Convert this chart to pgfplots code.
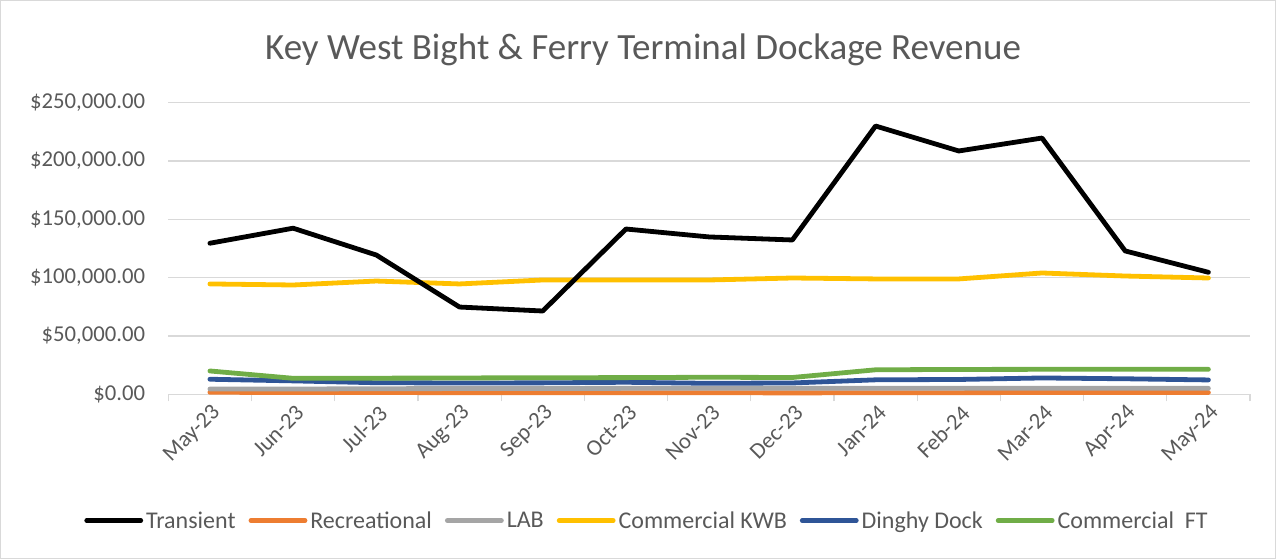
\documentclass[border=0pt]{standalone}
\usepackage{pgfplots}
\pgfplotsset{compat=1.18}
\usepackage{pgfplotstable}
\usepackage{fontspec}
\setmainfont{Carlito}
\definecolor{txt}{HTML}{595959}
\definecolor{gridc}{HTML}{D9D9D9}
\definecolor{cOrange}{HTML}{ED7D31}
\definecolor{cGray}{HTML}{A5A5A5}
\definecolor{cGold}{HTML}{FFC000}
\definecolor{cBlue}{HTML}{2F5597}
\definecolor{cGreen}{HTML}{70AD47}

\pgfplotstableread{
x transient recreational lab kwb dinghy ft
0  129500 1700 4500 94600 12900 20000
1  142400 1600 4500 93700 11500 13700
2  119400 1500 4800 97100  9900 13800
3   74800 1400 4900 94600  9700 14000
4   71400 1400 5000 98000  9800 14200
5  141700 1400 5100 98000 10300 14300
6  134900 1300 5100 98000  9400 14600
7  132300 1200 5100 99700  9700 14400
8  230000 1300 5100 98900 12400 21000
9  208600 1400 5100 98900 12700 21300
10 219700 1500 5100 104000 14000 21400
11 122900 1500 5100 101400 13300 21400
12 104600 1500 5100 99700 12300 21400
}\datatable

\begin{document}
\begin{tikzpicture}[x=1bp,y=1bp,font=\fontsize{22.7bp}{27bp}\selectfont, text=txt]
\path[use as bounding box] (0,0) rectangle (1276,559);
\draw[gridc, line width=1.2bp] (0.6,0.6) rectangle (1275.4,558.4);
\node[anchor=base, font=\fontsize{37bp}{44bp}\selectfont, text=txt] at (643,499.7) {Key West Bight \& Ferry Terminal Dockage Revenue};
\begin{axis}[
  at={(168.3bp,164.7bp)}, anchor=south west,
  scale only axis, width=1081.7bp, height=291.6bp,
  xmin=-0.5, xmax=12.5, ymin=0, ymax=250000,
  xtick={0,...,12},
  xticklabels={May-23,Jun-23,Jul-23,Aug-23,Sep-23,Oct-23,Nov-23,Dec-23,Jan-24,Feb-24,Mar-24,Apr-24,May-24},
  minor xtick={-0.5,0.5,...,12.5},
  major tick length=0pt,
  minor tick length=7bp,
  tick align=outside,
  minor tick style={gridc, line width=1.2bp},
  ytick={0,50000,...,250000},
  scaled y ticks=false,
  yticklabel={\$\pgfmathprintnumber[fixed, fixed zerofill, precision=2, 1000 sep={,}]{\tick}},
  /pgf/number format/assume math mode=true,
  ymajorgrids,
  grid style={gridc, line width=1.2bp},
  axis x line*=bottom, axis y line*=left,
  x axis line style={gridc, line width=1.2bp},
  y axis line style={draw=none},
  ytick style={draw=none},
  tick label style={text=txt, font=\fontsize{22.7bp}{27bp}\selectfont},
  yticklabel style={anchor=east, inner sep=0pt, xshift=-23bp},
  xticklabel style={inner sep=0pt, xshift=7bp, yshift=-15bp, rotate=45, anchor=east},
  every axis plot/.append style={line width=4.8bp, line cap=round, line join=round, mark=none},
  clip=false,
]
\addplot[cOrange] table[x=x,y=recreational]{\datatable};
\addplot[cGray] table[x=x,y=lab]{\datatable};
\addplot[cBlue] table[x=x,y=dinghy]{\datatable};
\addplot[cGreen] table[x=x,y=ft]{\datatable};
\addplot[cGold] table[x=x,y=kwb]{\datatable};
\addplot[black] table[x=x,y=transient]{\datatable};
\end{axis}
\begin{axis}[
  at={(168.3bp,164.7bp)}, anchor=south west,
  scale only axis, width=1081.7bp, height=291.6bp,
  xmin=-0.5, xmax=12.5, ymin=0, ymax=250000,
  hide axis,
  legend columns=6,
  legend style={at={(0.4425,-0.433)}, anchor=center, draw=none, fill=none,
    font=\fontsize{24bp}{28bp}\selectfont, text=txt,
    /tikz/every even column/.append style={column sep=11bp},
    /tikz/every odd column/.append style={column sep=1bp},
    inner sep=0pt, row sep=0pt},
  legend image code/.code={\draw[#1, line cap=round] (0bp,0bp) -- (54bp,0bp);},
  every axis plot/.append style={line width=4.8bp, mark=none},
]
\addlegendimage{black}\addlegendentry{Transient}
\addlegendimage{cOrange}\addlegendentry{Recreational}
\addlegendimage{cGray}\addlegendentry{LAB}
\addlegendimage{cGold}\addlegendentry{Commercial KWB}
\addlegendimage{cBlue}\addlegendentry{Dinghy Dock}
\addlegendimage{cGreen}\addlegendentry{Commercial\ \ FT}
\end{axis}
\end{tikzpicture}
\end{document}
